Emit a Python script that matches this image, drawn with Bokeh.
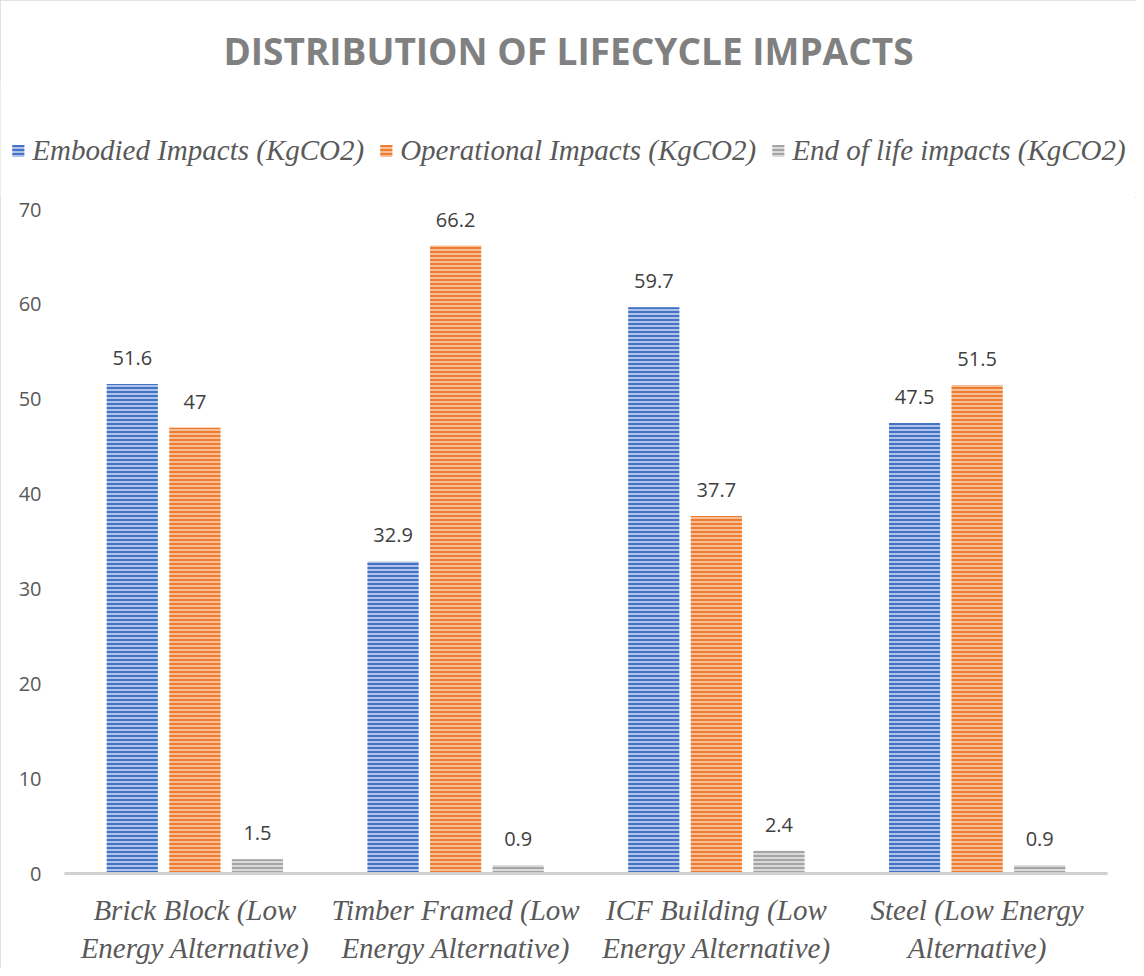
from bokeh.plotting import figure
from bokeh.models import ColumnDataSource, FixedTicker, Legend, LegendItem
from bokeh.layouts import column
from bokeh.core.properties import value
from bokeh.embed import file_html
from bokeh.resources import INLINE

categories = ["Brick Block (Low\nEnergy Alternative)", "Timber Framed (Low\nEnergy Alternative)",
              "ICF Building (Low\nEnergy Alternative)", "Steel (Low Energy\nAlternative)"]
series_names = ["Embodied Impacts (KgCO2)", "Operational Impacts (KgCO2)", "End of life impacts (KgCO2)"]
embodied = [51.6, 32.9, 59.7, 47.5]
operational = [47, 66.2, 37.7, 51.5]
end_of_life = [1.5, 0.9, 2.4, 0.9]
y_ticks = [0, 10, 20, 30, 40, 50, 60, 70]

series = [embodied, operational, end_of_life]
main_colors = ["#4472C4", "#ED7D31", "#A5A5A5"]
light_colors = ["#AFC3EA", "#F7BE98", "#DADADA"]
offsets = [-0.24, 0.0, 0.24]
bar_w = 0.196

# Header figure: title + legend
h = figure(width=1136, height=197, x_range=(0, 1), y_range=(0, 1),
           x_axis_type=None, y_axis_type=None,
           output_backend="svg", toolbar_location=None,
           min_border_left=0, min_border_right=0, min_border_top=80, min_border_bottom=0)
h.xgrid.visible = False
h.ygrid.visible = False
h.outline_line_color = None
h.title.text = "DISTRIBUTION OF LIFECYCLE IMPACTS"
h.title.align = "center"
h.title.text_font = "Open Sans"
h.title.text_font_size = "37px"
h.title.text_font_style = "bold"
h.title.text_color = "#808080"

# Main chart
p = figure(width=1136, height=771, x_range=(0, 4), y_range=(0, 70),
           output_backend="svg", toolbar_location=None,
           min_border_left=64, min_border_right=29, min_border_top=12, min_border_bottom=95)

for fig in (h, p):
    if "frame_align" in fig.properties():
        fig.frame_align = False

items = []
for j, vals in enumerate(series):
    xs = [i + 0.5 + offsets[j] for i in range(len(vals))]
    src = ColumnDataSource(dict(x=xs, top=vals, lab=[("%g" % v) for v in vals]))
    style = dict(fill_color=light_colors[j], line_color=None,
                 hatch_pattern="horizontal_line", hatch_color=main_colors[j],
                 hatch_scale=4, hatch_weight=2)
    p.vbar(x="x", top="top", width=bar_w, bottom=0, source=src, **style)
    p.text(x="x", y="top", text="lab", source=src, y_offset=-26,
           text_align="center", text_baseline="middle",
           text_font=value("Open Sans"), text_font_size="20px", text_color="#404040")
    proxy = h.vbar(x=[0], top=[0], width=0, bottom=0, **style)
    items.append(LegendItem(label=series_names[j], renderers=[proxy], index=0))

legend = Legend(items=items, orientation="horizontal", location="top_center",
                label_text_font="Liberation Serif", label_text_font_style="italic",
                label_text_font_size="29px", label_text_color="#595959",
                glyph_width=15, glyph_height=15, spacing=14, label_standoff=7,
                border_line_color=None, background_fill_alpha=0, padding=4, margin=54)
h.add_layout(legend, "center")

p.xgrid.visible = False
p.ygrid.visible = False
p.outline_line_color = None

p.xaxis.ticker = FixedTicker(ticks=[0.5, 1.5, 2.5, 3.5])
p.xaxis.major_label_overrides = {i + 0.5: c for i, c in enumerate(categories)}
p.xaxis.major_tick_line_color = None
p.xaxis.minor_tick_line_color = None
p.xaxis.axis_line_color = "#D0D0D0"
p.xaxis.axis_line_width = 3
p.xaxis.major_label_text_font = "Liberation Serif"
p.xaxis.major_label_text_font_style = "italic"
p.xaxis.major_label_text_font_size = "29px"
p.xaxis.major_label_text_color = "#595959"
p.xaxis.major_label_standoff = 14

p.yaxis.ticker = FixedTicker(ticks=y_ticks)
p.yaxis.axis_line_color = None
p.yaxis.major_tick_line_color = None
p.yaxis.minor_tick_line_color = None
p.yaxis.major_label_text_font = "Open Sans"
p.yaxis.major_label_text_font_size = "20px"
p.yaxis.major_label_text_color = "#595959"
p.yaxis.major_label_standoff = 17

layout = column(h, p, spacing=0)
layout.styles = {"outline": "1px solid #D9D9D9", "outline-offset": "-1px"}

open("out.html", "w").write(file_html(layout, INLINE))
